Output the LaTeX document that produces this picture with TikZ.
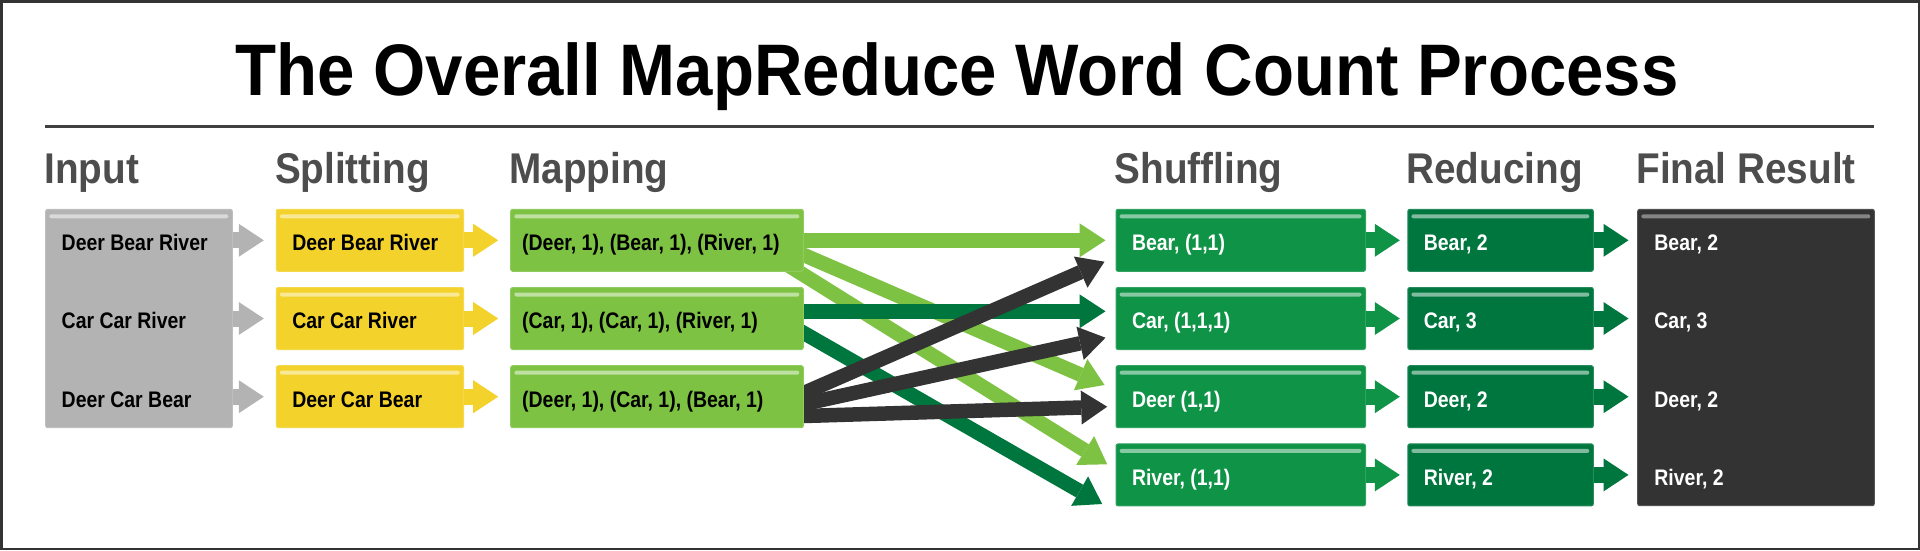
\documentclass[tikz,border=0pt]{standalone}
\usepackage{fontspec}
\usepackage{tikz}
\usetikzlibrary{arrows.meta,positioning,calc,backgrounds}
\newfontfamily\titlefont{Liberation Sans}[FakeStretch=0.92]
\newfontfamily\headfont{Liberation Sans}[FakeStretch=0.90]
\newfontfamily\boxfont{Liberation Sans}[FakeStretch=0.865]
\definecolor{mrGray}{HTML}{B3B3B3}
\definecolor{mrYellow}{HTML}{F3D22C}
\definecolor{mrLight}{HTML}{7DC242}
\definecolor{mrShuf}{HTML}{0F9347}
\definecolor{mrRed}{HTML}{00763F}
\definecolor{mrDark}{HTML}{333333}
\definecolor{mrRule}{HTML}{404040}
\definecolor{mrHead}{HTML}{4D4D4D}
\newcommand{\titletext}{\titlefont\bfseries\fontsize{73}{80}\selectfont}
\newcommand{\headtext}{\headfont\bfseries\fontsize{43}{48}\selectfont}
\newcommand{\boxtext}{\boxfont\bfseries\fontsize{22.5}{27}\selectfont}

\begin{document}
\begin{tikzpicture}[
    x=1pt, y=-1pt,
    box/.style={rectangle, rounded corners=2pt, line width=1pt, minimum height=62pt, inner ysep=0pt, inner xsep=16pt, align=flush left, text height=20.8pt, text depth=0pt, font=\boxtext},
    stripe/.style={path picture={\fill[#1] ([xshift=3.6pt,yshift=-5pt]path picture bounding box.north west) rectangle ([xshift=-4pt,yshift=-9pt]path picture bounding box.north east);}},
    inbox/.style={box, fill=mrGray, draw=mrGray!85!white, stripe=mrGray!50!white},
    splitbox/.style={box, fill=mrYellow, draw=mrYellow!85!white, stripe=mrYellow!50!white, minimum width=187.4pt, text width=155.4pt, text=black},
    mapbox/.style={box, fill=mrLight, draw=mrLight!85!white, stripe=mrLight!50!white, inner xsep=11.5pt, minimum width=292.6pt, text width=269.6pt, text=black},
    shufbox/.style={box, fill=mrShuf, draw=mrShuf!85!white, stripe=mrShuf!50!white, minimum width=249.5pt, text width=217.5pt, text=white},
    redbox/.style={box, fill=mrRed, draw=mrRed!85!white, stripe=mrRed!50!white, minimum width=185.5pt, text width=153.5pt, text=white},
    finbox/.style={box, fill=mrDark, draw=mrDark!85!white, stripe=mrDark!60!white},
    rowtext/.style={anchor=base west, inner sep=0pt, font=\boxtext},
    head/.style={anchor=base west, inner sep=0pt, text=mrHead, font=\headtext},
    flow/.style={draw=#1, line width=16pt, -{Triangle[length=25pt, width=33pt, line width=0pt]}},
    route/.style={draw=#1, line width=14.5pt, shorten <=-25pt, -{Triangle[length=26pt, width=34pt, line width=0pt]}},
  ]
  \useasboundingbox (0,0) rectangle (1920,550);
  \draw[line width=2.5pt, draw=mrDark] (1.25,1.25) rectangle (1918.75,548.75);
  \node[font=\titletext, anchor=base, inner sep=0pt] (title) at (957,95) {The Overall MapReduce Word Count Process};
  \draw[line width=2.7pt, draw=mrRule] (45,126.7) -- (1874,126.7);

  \node[inbox, minimum width=186.6pt, minimum height=218.4pt] (in) at (139,318.5) {};
  \node[rowtext] (in1) at (61.5,250.7) {Deer Bear River};
  \node[rowtext] (in2) at (61.5,328.9) {Car Car River};
  \node[rowtext] (in3) at (61.5,407.1) {Deer Car Bear};

  \node[splitbox] (sp1) at (370,240.3) {Deer Bear River};
  \node[splitbox] (sp2) at (370,318.5) {Car Car River};
  \node[splitbox] (sp3) at (370,396.7) {Deer Car Bear};

  \node[mapbox] (mp1) at (657,240.3) {(Deer, 1), (Bear, 1), (River, 1)};
  \node[mapbox] (mp2) at (657,318.5) {(Car, 1), (Car, 1), (River, 1)};
  \node[mapbox] (mp3) at (657,396.7) {(Deer, 1), (Car, 1), (Bear, 1)};

  \node[shufbox] (sh1) at (1240.75,240.3) {Bear, (1,1)};
  \node[shufbox] (sh2) at (1240.75,318.5) {Car, (1,1,1)};
  \node[shufbox] (sh3) at (1240.75,396.7) {Deer (1,1)};
  \node[shufbox] (sh4) at (1240.75,474.9) {River, (1,1)};

  \node[redbox] (rd1) at (1500.55,240.3) {Bear, 2};
  \node[redbox] (rd2) at (1500.55,318.5) {Car, 3};
  \node[redbox] (rd3) at (1500.55,396.7) {Deer, 2};
  \node[redbox] (rd4) at (1500.55,474.9) {River, 2};

  \node[finbox, minimum width=236.6pt, minimum height=296.4pt] (fin) at (1756,357.5) {};
  \node[rowtext, text=white] (fin1) at (1654.2,250.7) {Bear, 2};
  \node[rowtext, text=white] (fin2) at (1654.2,328.9) {Car, 3};
  \node[rowtext, text=white] (fin3) at (1654.2,407.1) {Deer, 2};
  \node[rowtext, text=white] (fin4) at (1654.2,485.3) {River, 2};

  \node[head] (hIn) at ([xshift=-1pt,yshift=25pt]in.north west) {Input};
  \node[head] (hSplit) at ([xshift=-1pt,yshift=25pt]sp1.north west) {Splitting};
  \node[head] (hMap) at ([xshift=-1pt,yshift=25pt]mp1.north west) {Mapping};
  \node[head] (hShuf) at ([xshift=-1pt,yshift=25pt]sh1.north west) {Shuffling};
  \node[head] (hRed) at ([xshift=-1pt,yshift=25pt]rd1.north west) {Reducing};
  \node[head] (hFin) at ([xshift=-1pt,yshift=25pt]fin.north west) {Final Result};

  \draw[flow=mrGray, shorten >=12pt] (in.east |- sp1) -- (sp1);
  \draw[flow=mrGray, shorten >=12pt] (in.east |- sp2) -- (sp2);
  \draw[flow=mrGray, shorten >=12pt] (in.east |- sp3) -- (sp3);
  \draw[flow=mrYellow, shorten >=12pt] (sp1) -- (mp1);
  \draw[flow=mrYellow, shorten >=12pt] (sp2) -- (mp2);
  \draw[flow=mrYellow, shorten >=12pt] (sp3) -- (mp3);
  \draw[flow=mrShuf, shorten >=7.5pt] (sh1) -- (rd1);
  \draw[flow=mrShuf, shorten >=7.5pt] (sh2) -- (rd2);
  \draw[flow=mrShuf, shorten >=7.5pt] (sh3) -- (rd3);
  \draw[flow=mrShuf, shorten >=7.5pt] (sh4) -- (rd4);
  \draw[flow=mrRed, shorten >=8.7pt] (rd1) -- (fin.west |- rd1);
  \draw[flow=mrRed, shorten >=8.7pt] (rd2) -- (fin.west |- rd2);
  \draw[flow=mrRed, shorten >=8.7pt] (rd3) -- (fin.west |- rd3);
  \draw[flow=mrRed, shorten >=8.7pt] (rd4) -- (fin.west |- rd4);

  \begin{scope}[on background layer]
    \draw[route=mrLight] (mp1.east) -- ([xshift=-10pt]sh1.west);
    \draw[route=mrLight] ([yshift=-14.7pt]mp1.east) -- ([xshift=-11pt,yshift=11.7pt]sh3.west);
    \draw[route=mrLight] ([yshift=-34.7pt]mp1.east) -- ([xshift=-8.3pt,yshift=10.6pt]sh4.west);
    \draw[route=mrRed] ([yshift=7.2pt]mp2.east) -- ([xshift=-10pt,yshift=7.2pt]sh2.west);
    \draw[route=mrRed] ([yshift=-14.5pt]mp2.east) -- ([xshift=-13.3pt,yshift=-29.1pt]sh4.west);
    \draw[route=mrDark] ([yshift=3.7pt]mp3.east) -- ([xshift=-11pt,yshift=-21.4pt]sh1.west);
    \draw[route=mrDark] ([yshift=-7.3pt]mp3.east) -- ([xshift=-10pt,yshift=-19.2pt]sh2.west);
    \draw[route=mrDark] ([yshift=-19.3pt]mp3.east) -- ([xshift=-8.3pt,yshift=-10pt]sh3.west);
  \end{scope}
\end{tikzpicture}
\end{document}
